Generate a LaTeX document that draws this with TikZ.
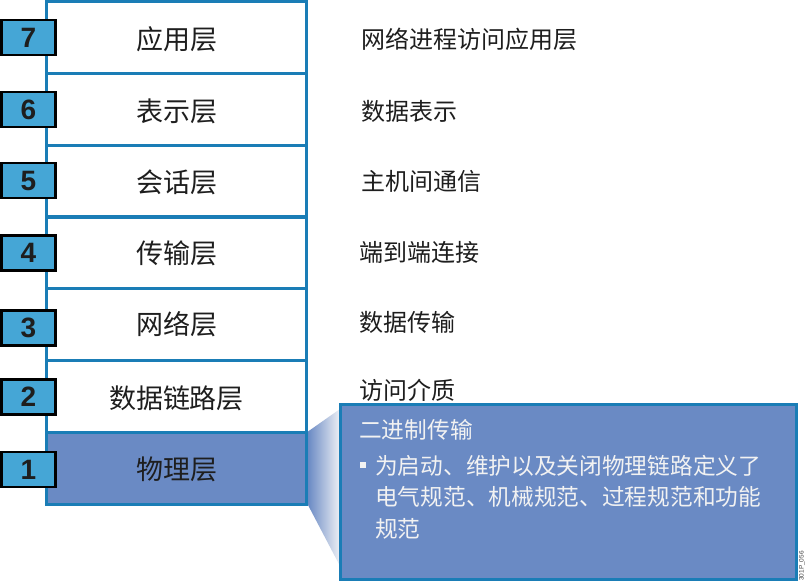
\documentclass[tikz,border=0pt]{standalone}
\usepackage{fontspec}
\setmainfont{Noto Sans CJK SC}
\newfontfamily\numfont{Liberation Sans}
\usetikzlibrary{positioning}
\definecolor{stackblue}{HTML}{1A7DB6}
\definecolor{numfill}{HTML}{45A6D6}
\definecolor{physfill}{HTML}{6A8AC4}
\definecolor{fadewhite}{HTML}{EEF0F5}
\definecolor{txt}{HTML}{1E1E1E}
\definecolor{lighttxt}{HTML}{F2F2F2}
\tikzset{
  layerbox/.style={draw=stackblue, line width=3.2pt, minimum width=260pt, minimum height=71.8pt, inner sep=0pt,
    font=\fontsize{27}{30}\selectfont, text=txt},
  layertext/.style={font=\fontsize{27}{30}\selectfont, text=txt},
  numbox/.style={draw=black, fill=numfill, line width=2.5pt, minimum width=54pt, minimum height=35pt, inner sep=0pt,
    font=\numfont\bfseries\fontsize{28}{30}\selectfont, text=txt},
  desc/.style={anchor=west, inner sep=0pt, font=\fontsize{24}{26}\selectfont, text=txt},
  calltxt/.style={anchor=west, inner sep=0pt, font=\fontsize{22.7}{25}\selectfont, text=lighttxt},
}
\begin{document}
\begin{tikzpicture}[x=1pt,y=-1pt]
\useasboundingbox (0,0) rectangle (807,582);
\fill[white] (0,0) rectangle (807,582);
% layer stack
\node[layerbox] (l7) at (176.5,37.4) {};
\node[layerbox] (l6) at (176.5,109.2) {};
\node[layerbox] (l5) at (176.5,181.0) {};
\node[layerbox] (l4) at (176.5,252.8) {};
\node[layerbox] (l3) at (176.5,324.6) {};
\node[layerbox] (l2) at (176.5,396.4) {};
\node[layerbox, fill=physfill] (l1) at (176.5,468.2) {};
\node[layertext] (t7) at (176.5,39.5) {应用层};
\node[layertext] (t6) at (176.5,111.5) {表示层};
\node[layertext] (t5) at (176.5,182.5) {会话层};
\node[layertext] (t4) at (176.5,253.5) {传输层};
\node[layertext] (t3) at (176.5,324.5) {网络层};
\node[layertext] (t2) at (176.5,398) {数据链路层};
\node[layertext] (t1) at (176.5,469.5) {物理层};
% number boxes
\node[numbox] (n7) at (28.5,37.5) {7};
\node[numbox] (n6) at (28.5,109.5) {6};
\node[numbox] (n5) at (28.5,180.5) {5};
\node[numbox] (n4) at (28.5,253) {4};
\node[numbox] (n3) at (28.5,328) {3};
\node[numbox] (n2) at (28.5,397) {2};
\node[numbox] (n1) at (28.5,469.5) {1};
% descriptions
\node[desc] (d7) at (361,39) {网络进程访问应用层};
\node[desc] (d6) at (361,111) {数据表示};
\node[desc] (d5) at (361,181) {主机间通信};
\node[desc] (d4) at (359,252) {端到端连接};
\node[desc] (d3) at (359,322) {数据传输};
\node[desc] (d2) at (359,390) {访问介质};
% funnel
\shade[left color=physfill, right color=fadewhite] (308,431.5) -- (340,409) -- (340,566) -- (308,505) -- cycle;
% callout
\node[draw=stackblue, fill=physfill, line width=3pt, minimum width=456pt, minimum height=175pt, inner sep=0pt] (call) at (568.5,492) {};
\node[calltxt] (ct) at (359,430) {二进制传输};
\fill[lighttxt] (360,462) rectangle (366,468);
\node[calltxt] (c1) at (375,466) {为启动、维护以及关闭物理链路定义了};
\node[calltxt] (c2) at (375,497) {电气规范、机械规范、过程规范和功能};
\node[calltxt] (c3) at (375,529) {规范};
\node[rotate=90, inner sep=0pt, font=\numfont\fontsize{6.5}{7}\selectfont, text=black!75] (code) at (802,566) {301P\_056};
\end{tikzpicture}
\end{document}
